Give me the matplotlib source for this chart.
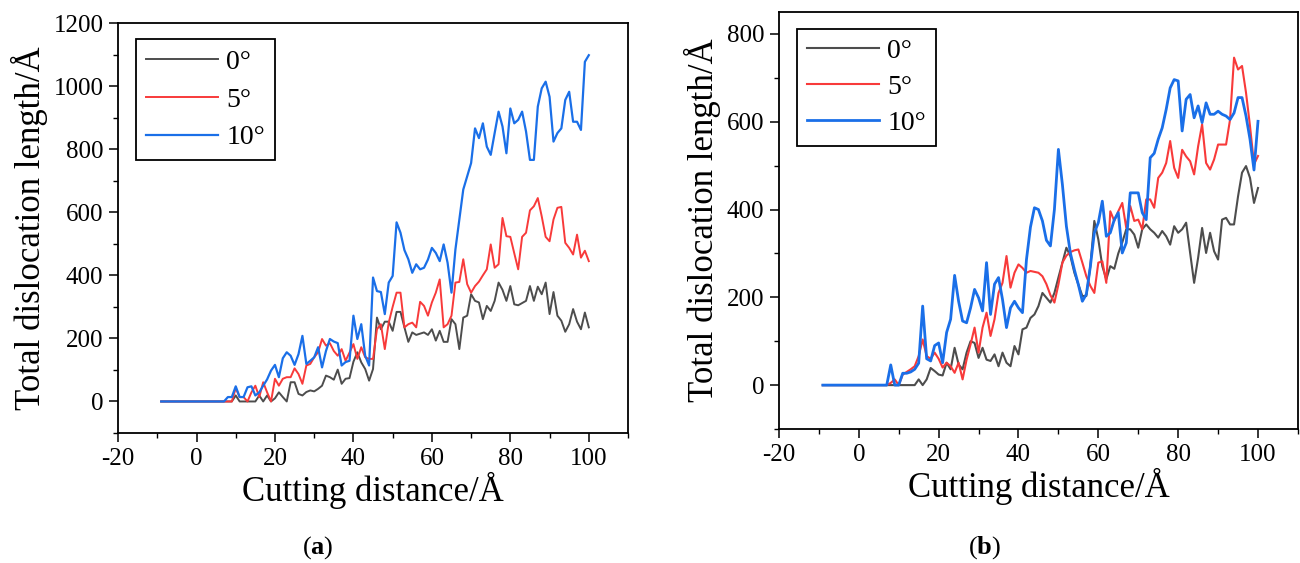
import matplotlib
matplotlib.use("Agg")
import matplotlib.pyplot as plt
from matplotlib.ticker import MultipleLocator

plt.rcParams['font.family'] = ['Liberation Serif', 'DejaVu Serif']
plt.rcParams['mathtext.fontset'] = 'custom'
plt.rcParams['mathtext.rm'] = 'Liberation Serif'
plt.rcParams['mathtext.bf'] = 'Liberation Serif:bold'
plt.rcParams['axes.unicode_minus'] = False

# ---------------- data ----------------
x_vals = [-9] + list(range(7, 101))
labels = ["0\u00b0", "5\u00b0", "10\u00b0"]

# panel (a)
a_0deg = [0, 0, 0, 0, 19, 0, 0, 0, 0, 0, 19, 0, 19, 0, 10, 29, 14, 0, 61, 61, 24,
          19, 30, 35, 32, 40, 50, 82, 77, 69, 101, 56, 72, 74, 126, 156, 124, 103, 66,
          103, 266, 229, 253, 253, 224, 284, 284, 235, 189, 219, 211, 215, 219, 211,
          229, 193, 224, 189, 189, 261, 245, 166, 266, 272, 340, 319, 314, 261, 303,
          287, 319, 377, 354, 319, 366, 308, 305, 312, 319, 366, 319, 364, 340, 377,
          277, 347, 272, 256, 221, 245, 293, 253, 229, 282, 235]
a_5deg = [0, 0, 0, 0, 42, 14, 14, 0, 29, 50, 14, 61, 29, 0, 72, 50, 72, 77, 77, 105,
          87, 56, 114, 119, 140, 156, 198, 177, 185, 160, 145, 166, 129, 155, 182, 135,
          172, 140, 135, 135, 229, 245, 166, 250, 300, 345, 345, 235, 245, 250, 235,
          316, 303, 272, 314, 345, 387, 235, 245, 272, 377, 379, 451, 372, 345, 366,
          380, 400, 419, 498, 424, 435, 582, 524, 522, 470, 419, 522, 535, 606, 619,
          645, 587, 522, 508, 577, 614, 617, 503, 487, 466, 529, 456, 478, 445]
a_10deg = [0, 0, 14, 14, 48, 14, 14, 45, 48, 19, 29, 50, 70, 98, 116, 77, 137, 156,
           145, 116, 150, 208, 119, 129, 140, 172, 108, 160, 198, 190, 185, 114, 125,
           129, 272, 198, 245, 145, 114, 393, 350, 347, 277, 377, 398, 568, 535, 480,
           451, 408, 435, 419, 424, 450, 487, 471, 445, 498, 440, 345, 482, 577, 672,
           714, 756, 866, 835, 882, 808, 782, 851, 919, 872, 787, 929, 882, 893, 919,
           856, 766, 766, 935, 993, 1014, 966, 824, 851, 866, 956, 982, 887, 887, 861,
           1077, 1098]

# panel (b)
b_0deg = [0, 0, 0, 0, 0, 0, 0, 0, 0, 13, 0, 13, 39, 32, 24, 22, 51, 36, 85, 47, 36,
          74, 100, 96, 62, 85, 58, 55, 70, 43, 74, 51, 43, 89, 70, 127, 131, 153, 161,
          180, 210, 199, 188, 210, 245, 279, 313, 294, 256, 229, 203, 203, 271, 374,
          332, 271, 241, 271, 265, 300, 325, 355, 355, 343, 313, 355, 366, 355, 347,
          336, 351, 339, 320, 362, 347, 355, 370, 301, 233, 290, 358, 301, 347, 305,
          286, 377, 381, 366, 366, 430, 484, 499, 472, 415, 449]
b_5deg = [0, 0, 5, 13, 0, 24, 30, 36, 43, 66, 104, 66, 60, 74, 60, 40, 51, 43, 28, 51,
          13, 58, 93, 131, 74, 131, 165, 112, 150, 210, 233, 294, 222, 256, 275, 267,
          256, 260, 258, 256, 248, 230, 205, 188, 229, 279, 295, 303, 307, 309, 279,
          248, 226, 210, 279, 282, 233, 396, 374, 396, 415, 358, 408, 374, 377, 355,
          423, 423, 404, 472, 484, 506, 556, 495, 472, 536, 521, 510, 480, 544, 594,
          506, 491, 514, 548, 548, 548, 605, 746, 719, 727, 666, 590, 503, 522]
b_10deg = [0, 0, 46, 0, 0, 27, 27, 30, 36, 50, 180, 60, 55, 90, 96, 51, 120, 150, 250,
           191, 146, 142, 176, 218, 199, 169, 279, 161, 230, 245, 195, 131, 176, 191,
           176, 165, 286, 360, 404, 400, 374, 330, 317, 400, 537, 457, 362, 301, 263,
           229, 191, 207, 270, 347, 370, 419, 339, 347, 377, 393, 301, 324, 438, 438,
           438, 393, 377, 518, 528, 560, 586, 628, 677, 696, 693, 579, 651, 662, 609,
           636, 598, 643, 617, 617, 624, 617, 613, 605, 620, 655, 655, 613, 560, 490,
           601]

colors = ['#4d4d4d', '#f83a3a', '#1a6fe8']

# ---------------- figure ----------------
fig = plt.figure(figsize=(13.0, 5.63), dpi=100)
ax_a = fig.add_axes([0.0908, 0.2309, 0.3923, 0.7282])
ax_b = fig.add_axes([0.5992, 0.2380, 0.3992, 0.7407])

panels = [
    (ax_a, [a_0deg, a_5deg, a_10deg], (-100, 1200), [1.4, 1.4, 1.6], 0.45),
    (ax_b, [b_0deg, b_5deg, b_10deg], (-100, 850), [1.5, 1.5, 2.0], 0.38),
]

for ax, series, ylim, lws, lsp in panels:
    for ys, c, lab, lw in zip(series, colors, labels, lws):
        ax.plot(x_vals, ys, color=c, lw=lw, label=lab)
    ax.set_xlim(-20, 110)
    ax.set_ylim(*ylim)
    ax.xaxis.set_major_locator(MultipleLocator(20))
    ax.xaxis.set_minor_locator(MultipleLocator(10))
    ax.yaxis.set_major_locator(MultipleLocator(200))
    ax.yaxis.set_minor_locator(MultipleLocator(100))
    ax.tick_params(which='major', direction='out', length=6.5, width=1.1,
                   labelsize=18, pad=4, top=False, right=False)
    ax.tick_params(which='minor', direction='out', length=3.5, width=1.0,
                   top=False, right=False)
    for sp in ax.spines.values():
        sp.set_linewidth(1.3)
    ax.set_xlabel("Cutting distance/\u00c5", fontsize=25, labelpad=2)
    ax.set_ylabel("Total dislocation length/\u00c5", fontsize=25, labelpad=4)
    leg = ax.legend(loc='upper left', bbox_to_anchor=(0.035, 0.96), fontsize=20,
                    frameon=True, fancybox=False, shadow=False, framealpha=1,
                    handlelength=2.6, handletextpad=0.3, labelspacing=lsp,
                    borderpad=0.35, borderaxespad=0.0)
    leg.get_frame().set_edgecolor('black')
    leg.get_frame().set_linewidth(1.3)

fig.text(318 / 1300, 1 - 548 / 563, r"($\mathbf{a}$)", fontsize=19,
         ha='center', va='center')
fig.text(985 / 1300, 1 - 548 / 563, r"($\mathbf{b}$)", fontsize=19,
         ha='center', va='center')

fig.savefig("out.png", dpi=100)
